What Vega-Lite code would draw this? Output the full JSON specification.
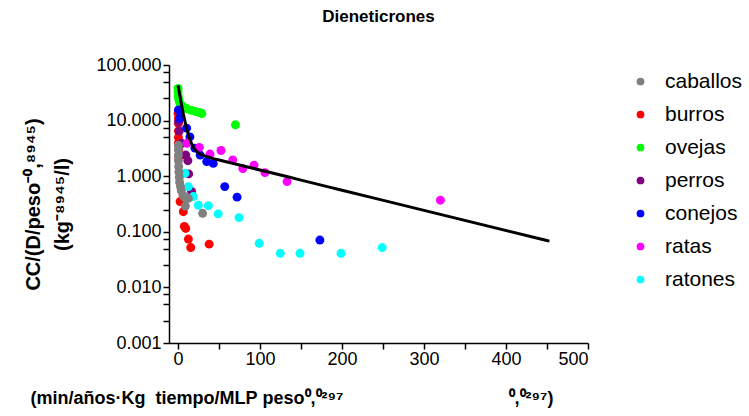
{
  "$schema": "https://vega.github.io/schema/vega-lite/v6.json",
  "width": 419,
  "height": 278,
  "autosize": {"type": "none"},
  "padding": {"left": 169, "top": 65, "right": 161, "bottom": 73},
  "background": "white",
  "config": {
    "view": {"stroke": null},
    "font": "Liberation Sans",
    "axis": {"domainColor": "black", "tickColor": "black", "labelColor": "black", "titleColor": "black", "grid": false, "domainWidth": 1.5, "tickWidth": 1.5}
  },
  "title": {"text": "Dieneticrones", "fontSize": 17, "fontWeight": "bold", "font": "Liberation Sans", "anchor": "middle", "frame": "group", "offset": 30, "color": "black"},
  "datasets": {
    "points": [
      {"especie": "burros", "x": 0, "y": 13.5},
      {"especie": "burros", "x": 0.5, "y": 11},
      {"especie": "burros", "x": 0.5, "y": 8.9},
      {"especie": "burros", "x": 0.5, "y": 6.5},
      {"especie": "burros", "x": 0.5, "y": 5.0},
      {"especie": "burros", "x": 0.5, "y": 4.0},
      {"especie": "burros", "x": 1, "y": 3.0},
      {"especie": "burros", "x": 1, "y": 2.2},
      {"especie": "burros", "x": 2.5, "y": 0.35},
      {"especie": "burros", "x": 6.5, "y": 0.23},
      {"especie": "burros", "x": 7.7, "y": 0.125},
      {"especie": "burros", "x": 9.4, "y": 0.115},
      {"especie": "burros", "x": 12.6, "y": 0.074},
      {"especie": "burros", "x": 15.5, "y": 0.052},
      {"especie": "burros", "x": 38, "y": 0.06},
      {"especie": "ovejas", "x": 0, "y": 38},
      {"especie": "ovejas", "x": 0, "y": 33},
      {"especie": "ovejas", "x": 0.3, "y": 28},
      {"especie": "ovejas", "x": 0.8, "y": 24},
      {"especie": "ovejas", "x": 2, "y": 21},
      {"especie": "ovejas", "x": 4, "y": 19},
      {"especie": "ovejas", "x": 7, "y": 17.5},
      {"especie": "ovejas", "x": 11, "y": 16.3},
      {"especie": "ovejas", "x": 16, "y": 15.3},
      {"especie": "ovejas", "x": 21, "y": 14.6},
      {"especie": "ovejas", "x": 26, "y": 14},
      {"especie": "ovejas", "x": 29, "y": 13.4},
      {"especie": "ovejas", "x": 70, "y": 8.4},
      {"especie": "perros", "x": 0.5, "y": 9.5},
      {"especie": "perros", "x": 1.5, "y": 6.5},
      {"especie": "perros", "x": 4.5, "y": 3.9},
      {"especie": "perros", "x": 9.5, "y": 2.4},
      {"especie": "perros", "x": 12, "y": 1.9},
      {"especie": "perros", "x": 13, "y": 1.1},
      {"especie": "perros", "x": 16.5, "y": 0.53},
      {"especie": "conejos", "x": 0.5, "y": 15.5},
      {"especie": "conejos", "x": 2, "y": 11},
      {"especie": "conejos", "x": 10.5, "y": 7.3},
      {"especie": "conejos", "x": 14.5, "y": 5.1},
      {"especie": "conejos", "x": 20.5, "y": 3.2},
      {"especie": "conejos", "x": 27, "y": 2.4},
      {"especie": "conejos", "x": 35, "y": 1.83},
      {"especie": "conejos", "x": 43, "y": 1.7},
      {"especie": "conejos", "x": 57, "y": 0.65},
      {"especie": "conejos", "x": 72, "y": 0.42},
      {"especie": "conejos", "x": 173, "y": 0.071},
      {"especie": "ratas", "x": 11, "y": 3.9},
      {"especie": "ratas", "x": 26, "y": 3.3},
      {"especie": "ratas", "x": 39, "y": 2.5},
      {"especie": "ratas", "x": 52.4, "y": 2.9},
      {"especie": "ratas", "x": 66.7, "y": 1.96},
      {"especie": "ratas", "x": 79, "y": 1.37},
      {"especie": "ratas", "x": 92.7, "y": 1.58},
      {"especie": "ratas", "x": 106, "y": 1.16},
      {"especie": "ratas", "x": 133, "y": 0.8},
      {"especie": "ratas", "x": 320, "y": 0.37},
      {"especie": "ratones", "x": 8.5, "y": 1.13},
      {"especie": "ratones", "x": 12.6, "y": 0.65},
      {"especie": "ratones", "x": 18.7, "y": 0.43},
      {"especie": "ratones", "x": 24.8, "y": 0.3},
      {"especie": "ratones", "x": 37, "y": 0.295},
      {"especie": "ratones", "x": 49, "y": 0.21},
      {"especie": "ratones", "x": 74.4, "y": 0.18},
      {"especie": "ratones", "x": 99, "y": 0.062},
      {"especie": "ratones", "x": 124.7, "y": 0.041},
      {"especie": "ratones", "x": 148.8, "y": 0.041},
      {"especie": "ratones", "x": 198.8, "y": 0.041},
      {"especie": "ratones", "x": 249, "y": 0.052},
      {"especie": "caballos", "x": 0.5, "y": 3.6},
      {"especie": "caballos", "x": 0.5, "y": 3.0},
      {"especie": "caballos", "x": 0.5, "y": 2.4},
      {"especie": "caballos", "x": 0.5, "y": 1.9},
      {"especie": "caballos", "x": 0.8, "y": 1.5},
      {"especie": "caballos", "x": 1, "y": 1.2},
      {"especie": "caballos", "x": 1.5, "y": 0.95},
      {"especie": "caballos", "x": 2, "y": 0.78},
      {"especie": "caballos", "x": 3, "y": 0.65},
      {"especie": "caballos", "x": 4, "y": 0.55},
      {"especie": "caballos", "x": 6, "y": 0.45},
      {"especie": "caballos", "x": 8.5, "y": 0.41},
      {"especie": "caballos", "x": 12.6, "y": 0.4},
      {"especie": "caballos", "x": 9, "y": 0.29},
      {"especie": "caballos", "x": 30, "y": 0.215}
    ],
    "fit": [
      {"x": 0, "y": 43},
      {"x": 1, "y": 35.4},
      {"x": 2, "y": 29.3},
      {"x": 3, "y": 24.3},
      {"x": 4, "y": 20.3},
      {"x": 6, "y": 14.3},
      {"x": 8, "y": 10.4},
      {"x": 10, "y": 7.7},
      {"x": 12, "y": 6.0},
      {"x": 15, "y": 4.4},
      {"x": 18, "y": 3.5},
      {"x": 22, "y": 2.88},
      {"x": 26, "y": 2.57},
      {"x": 30, "y": 2.39},
      {"x": 40, "y": 2.14},
      {"x": 50, "y": 1.96},
      {"x": 60, "y": 1.8},
      {"x": 75, "y": 1.59},
      {"x": 90, "y": 1.4},
      {"x": 110, "y": 1.19},
      {"x": 150, "y": 0.85},
      {"x": 200, "y": 0.56},
      {"x": 300, "y": 0.243},
      {"x": 453, "y": 0.068}
    ]
  },
  "layer": [
    {
      "data": {"name": "points"},
      "mark": {"type": "circle", "size": 80, "opacity": 1},
      "encoding": {
        "x": {
          "field": "x", "type": "quantitative",
          "scale": {"domain": [-11, 500], "nice": false, "zero": false},
          "axis": {
            "values": [0, 25, 50, 75, 100, 125, 150, 175, 200, 225, 250, 275, 300, 325, 350, 375, 400, 425, 450, 475, 500],
            "labelExpr": "datum.value % 100 === 0 ? datum.value : ''",
            "tickSize": 6, "labelFontSize": 18, "labelPadding": 1, "labelFont": "Liberation Sans",
            "title": "(min/años·Kg\u00a0\u00a0tiempo/MLP\u00a0peso⁰,⁰²⁹⁷\u00a0\u00a0\u00a0\u00a0\u00a0\u00a0\u00a0\u00a0\u00a0\u00a0\u00a0\u00a0\u00a0\u00a0\u00a0\u00a0\u00a0\u00a0\u00a0\u00a0\u00a0\u00a0\u00a0\u00a0\u00a0\u00a0\u00a0\u00a0\u00a0\u00a0\u00a0\u00a0\u00a0⁰,⁰²⁹⁷)",
            "titleFontSize": 18, "titleFontWeight": "bold", "titleFont": "Liberation Sans",
            "titleAlign": "left", "titleBaseline": "alphabetic", "titleX": -139, "titleY": 60, "titleAnchor": "start"
          }
        },
        "y": {
          "field": "y", "type": "quantitative",
          "scale": {"type": "log", "domain": [0.001, 100], "nice": false},
          "axis": {
            "values": [0.001, 0.0025, 0.005, 0.0075, 0.01, 0.025, 0.05, 0.075, 0.1, 0.25, 0.5, 0.75, 1, 2.5, 5, 7.5, 10, 25, 50, 75, 100],
            "labelExpr": "abs(log(datum.value)/LN10 - round(log(datum.value)/LN10)) < 0.001 ? format(datum.value, '.3f') : ''",
            "tickSize": 6, "labelFontSize": 18, "labelPadding": 2, "labelFont": "Liberation Sans",
            "title": ["CC/(D/peso⁻⁰,⁸⁹⁴⁵)", "(kg⁻⁸⁹⁴⁵/l)"],
            "titleFontSize": 20, "titleFontWeight": "bold", "titleFont": "Liberation Sans",
            "titleLineHeight": 29, "titleAngle": -90, "titleAlign": "center", "titleBaseline": "bottom",
            "titleX": -126, "titleY": 139
          }
        },
        "color": {
          "field": "especie", "type": "nominal",
          "scale": {
            "domain": ["caballos", "burros", "ovejas", "perros", "conejos", "ratas", "ratones"],
            "range": ["#808080", "#ff0000", "#00ff00", "#800080", "#0000ff", "#ff00ff", "#00ffff"]
          },
          "legend": {
            "orient": "none", "legendX": 461, "legendY": 6, "title": null,
            "labelFontSize": 21, "labelFont": "Liberation Sans", "labelColor": "black",
            "symbolType": "circle", "symbolSize": 60, "symbolStrokeWidth": 0, "symbolOpacity": 1,
            "rowPadding": 11, "labelOffset": 14, "padding": 0
          }
        }
      }
    },
    {
      "data": {"name": "fit"},
      "mark": {"type": "line", "color": "black", "strokeWidth": 3, "interpolate": "monotone"},
      "encoding": {
        "x": {"field": "x", "type": "quantitative"},
        "y": {"field": "y", "type": "quantitative"}
      }
    }
  ]
}
